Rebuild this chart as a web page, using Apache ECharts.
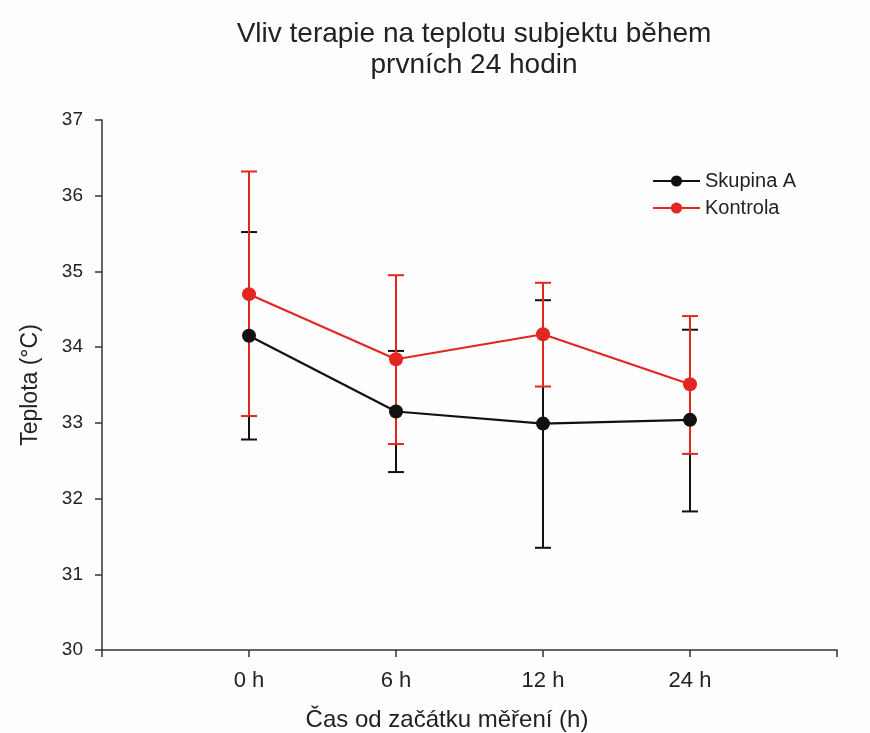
<!DOCTYPE html>
<html><head><meta charset="utf-8">
<script src="https://cdn.jsdelivr.net/npm/echarts@6/dist/echarts.min.js"></script>
<style>html,body{margin:0;padding:0;background:#fefefe}#c{width:870px;height:733px}</style>
</head><body><div id="c"></div>
<script>
const categories = ['0 h', '6 h', '12 h', '24 h'];
const seriesNames = ['Skupina A', 'Kontrola'];
const skupinaMean = [34.15, 33.15, 32.99, 33.04];
const skupinaLow  = [32.78, 32.35, 31.35, 31.83];
const skupinaHigh = [35.52, 33.95, 34.62, 34.23];
const kontrolaMean = [34.70, 33.84, 34.17, 33.51];
const kontrolaLow  = [33.09, 32.72, 33.48, 32.59];
const kontrolaHigh = [36.32, 34.95, 34.85, 34.41];
const yTicks = [30, 31, 32, 33, 34, 35, 36, 37];

const FONT = '"Liberation Sans", Arial, sans-serif';
const BLACK = '#111111', RED = '#e3261f';

function lineData(vals) { return vals.map((v, i) => [i + 1, v]); }
function errData(lo, hi) { return lo.map((l, i) => [i + 1, l, hi[i]]); }
function errRender(color) {
  return function (params, api) {
    const x = api.value(0);
    const p1 = api.coord([x, api.value(1)]);
    const p2 = api.coord([x, api.value(2)]);
    const w = 8;
    const st = { stroke: color, lineWidth: 2 };
    return { type: 'group', children: [
      { type: 'line', shape: { x1: p1[0], y1: p1[1], x2: p2[0], y2: p2[1] }, style: st },
      { type: 'line', shape: { x1: p1[0] - w, y1: p1[1], x2: p1[0] + w, y2: p1[1] }, style: st },
      { type: 'line', shape: { x1: p2[0] - w, y1: p2[1], x2: p2[0] + w, y2: p2[1] }, style: st }
    ]};
  };
}

const chart = echarts.init(document.getElementById('c'), null, { renderer: 'canvas' });
chart.setOption({
  backgroundColor: '#fefefe',
  animation: false,
  title: {
    text: 'Vliv terapie na teplotu subjektu během\nprvních 24 hodin',
    left: 469, top: 14, textAlign: 'center',
    textStyle: { fontFamily: FONT, fontSize: 28, fontWeight: 'normal', color: '#222', lineHeight: 31 }
  },
  legend: {
    orient: 'vertical', left: 647, top: 166, itemWidth: 47, itemHeight: 14, itemGap: 7,
    data: seriesNames,
    textStyle: { fontFamily: FONT, fontSize: 20, color: '#222' }
  },
  grid: { left: 102, right: 33, top: 120, bottom: 83 },
  xAxis: {
    type: 'value', min: 0, max: categories.length + 1, interval: 1,
    splitLine: { show: false },
    axisLine: { lineStyle: { color: '#333', width: 1.5 } },
    axisTick: { length: 7, lineStyle: { color: '#333', width: 1.5 } },
    axisLabel: {
      fontFamily: FONT, fontSize: 22, color: '#222', margin: 20,
      formatter: v => (v >= 1 && v <= categories.length) ? categories[v - 1] : ''
    }
  },
  yAxis: {
    type: 'value', min: yTicks[0], max: yTicks[yTicks.length - 1], interval: 1,
    splitLine: { show: false },
    axisLine: { show: true, lineStyle: { color: '#333', width: 1.5 } },
    axisTick: { show: true, length: 7, lineStyle: { color: '#333', width: 1.5 } },
    axisLabel: { fontFamily: FONT, fontSize: 19, color: '#222', margin: 19 },
    name: 'Teplota (°C)', nameLocation: 'middle', nameGap: 60, nameRotate: 90,
    nameTextStyle: { fontFamily: FONT, fontSize: 23, color: '#222' }
  },
  graphic: [{
    type: 'text', x: 447, y: 720,
    style: { text: 'Čas od začátku měření (h)', font: '24px "Liberation Sans", Arial, sans-serif', fill: '#222', textAlign: 'center', textVerticalAlign: 'middle' }
  }],
  series: [
    { type: 'custom', name: 'errA', renderItem: errRender(BLACK), data: errData(skupinaLow, skupinaHigh), encode: { x: 0, y: [1, 2] }, z: 1, silent: true },
    { type: 'custom', name: 'errK', renderItem: errRender(RED), data: errData(kontrolaLow, kontrolaHigh), encode: { x: 0, y: [1, 2] }, z: 2, silent: true },
    { type: 'line', name: seriesNames[0], data: lineData(skupinaMean), color: BLACK, symbol: 'circle', symbolSize: 14,
      lineStyle: { width: 2.2, color: BLACK }, itemStyle: { color: BLACK }, z: 3 },
    { type: 'line', name: seriesNames[1], data: lineData(kontrolaMean), color: RED, symbol: 'circle', symbolSize: 14,
      lineStyle: { width: 2.2, color: RED }, itemStyle: { color: RED }, z: 4 }
  ]
});
</script>
</body></html>
